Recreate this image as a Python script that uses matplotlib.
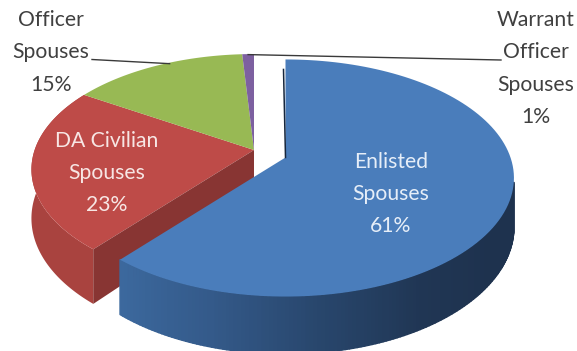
import numpy as np
import matplotlib
matplotlib.use("Agg")
import matplotlib.pyplot as plt
from matplotlib.collections import PolyCollection

# Slice data, listed clockwise from twelve o'clock
categories = ["Enlisted\nSpouses", "DA Civilian\nSpouses", "Officer\nSpouses", "Warrant\nOfficer\nSpouses"]
shares = [61, 23, 15, 1]
top_colors = ["#4a7dbb", "#be4b48", "#98b954", "#7d60a0"]

# Pie geometry in pixel space
RX, RY = 225.0, 115.0
TILT = 0.173
DEPTH = 47.5
MAIN_APEX = (254.0, 150.0)
MAIN_RADIUS = 0.975
EXPLODED_APEX = (285.5, 157.5)
EXPLODED_RADIUS = 1.0


def project(theta_deg, apex, radius):
    """Perspective projection of a point on the tilted pie disc."""
    t = np.radians(theta_deg)
    x, y = radius * np.cos(t), radius * np.sin(t)
    w = 1 + TILT * y
    return apex[0] + RX * x / w, apex[1] - RY * y / w, w


def lerp_colors(stops, n):
    stops = np.array(stops, dtype=float) / 255
    pos = np.linspace(0, 1, len(stops))
    u = np.linspace(0, 1, n)
    return np.column_stack([np.interp(u, pos, stops[:, i]) for i in range(3)])


fig = plt.figure(figsize=(5.77, 3.51), dpi=100)
ax = fig.add_axes([0, 0, 1, 1])
ax.set_xlim(0, 577)
ax.set_ylim(351, 0)
ax.axis("off")

edges = 90 - np.concatenate([[0], np.cumsum(shares)]) * 3.6
slices = [(edges[i], edges[i + 1]) for i in range(len(shares))]
apexes = [EXPLODED_APEX, MAIN_APEX, MAIN_APEX, MAIN_APEX]
radii = [EXPLODED_RADIUS, MAIN_RADIUS, MAIN_RADIUS, MAIN_RADIUS]

# Red slice: outer rim, then the cut face looking towards the viewer
red_start, red_end = slices[1]
th = np.linspace(red_end, red_start, 100)
X, Y, W = project(th, MAIN_APEX, MAIN_RADIUS)
ax.fill(np.r_[X, X[::-1]], np.r_[Y, (Y + DEPTH / W)[::-1]], color="#a9433f", lw=0, zorder=1)
cx, cy, cw = project(red_start, MAIN_APEX, MAIN_RADIUS)
ax.fill([MAIN_APEX[0], cx, cx, MAIN_APEX[0]],
        [MAIN_APEX[1], cy, cy + DEPTH / cw, MAIN_APEX[1] + DEPTH],
        color="#883533", lw=0, zorder=1.6)

# Blue slice rim, shaded in narrow strips from the left corner to the right
blue_start, blue_end = slices[0]
th = np.linspace(blue_end, -12, 140)
X, Y, W = project(th, EXPLODED_APEX, EXPLODED_RADIUS)
quads = [[(X[i], Y[i]), (X[i + 1], Y[i + 1]),
          (X[i + 1], Y[i + 1] + DEPTH / W[i + 1]), (X[i], Y[i] + DEPTH / W[i])]
         for i in range(len(th) - 1)]
shade = lerp_colors([(60, 105, 158), (52, 90, 138), (40, 70, 108), (32, 54, 84), (30, 50, 78), (30, 50, 78)],
                    len(quads))
ax.add_collection(PolyCollection(quads, facecolors=shade, edgecolors=shade, linewidths=1.0, zorder=2))

# Top faces of the slices
for (start, end), apex, radius, color in zip(slices, apexes, radii, top_colors):
    th = np.linspace(start, end, 120)
    X, Y, _ = project(th, apex, radius)
    z = 3 if apex is EXPLODED_APEX else 1.5
    ax.fill(np.r_[apex[0], X], np.r_[apex[1], Y], color=color, lw=0, zorder=z)

# Thin dark edge along the blue slice's upright cut
bx, by, _ = project(blue_start, EXPLODED_APEX, EXPLODED_RADIUS)
ax.plot([bx - 2, EXPLODED_APEX[0]], [by + 10, EXPLODED_APEX[1]], color="#16263c", lw=1.1, zorder=3.5)

# Leader lines
ox, oy, _ = project(edges[3] + (edges[2] - edges[3]) * 0.42, MAIN_APEX, MAIN_RADIUS)
ax.plot([92, ox], [59.5, oy + 1], color="#3a3a3a", lw=1.0, zorder=4)
wx, wy, _ = project((edges[3] + edges[4]) / 2, MAIN_APEX, MAIN_RADIUS)
ax.plot([wx, 501], [wy + 0.5, 60], color="#3a3a3a", lw=1.0, zorder=4)

# Category labels with their percentages
label_font = dict(family=["Lato", "DejaVu Sans"], fontsize=15.2, ha="center", va="center",
                  linespacing=1.78, zorder=5)
ax.text(391, 194, f"{categories[0]}\n{shares[0]}%", color="#e6eef8", **label_font)
ax.text(106.5, 173, f"{categories[1]}\n{shares[1]}%", color="#f7e6e4", **label_font)
ax.text(51, 52.5, f"{categories[2]}\n{shares[2]}%", color="#404040", **label_font)
ax.text(536, 68.5, f"{categories[3]}\n{shares[3]}%", color="#404040", **label_font)

fig.savefig("out.png", dpi=100)
